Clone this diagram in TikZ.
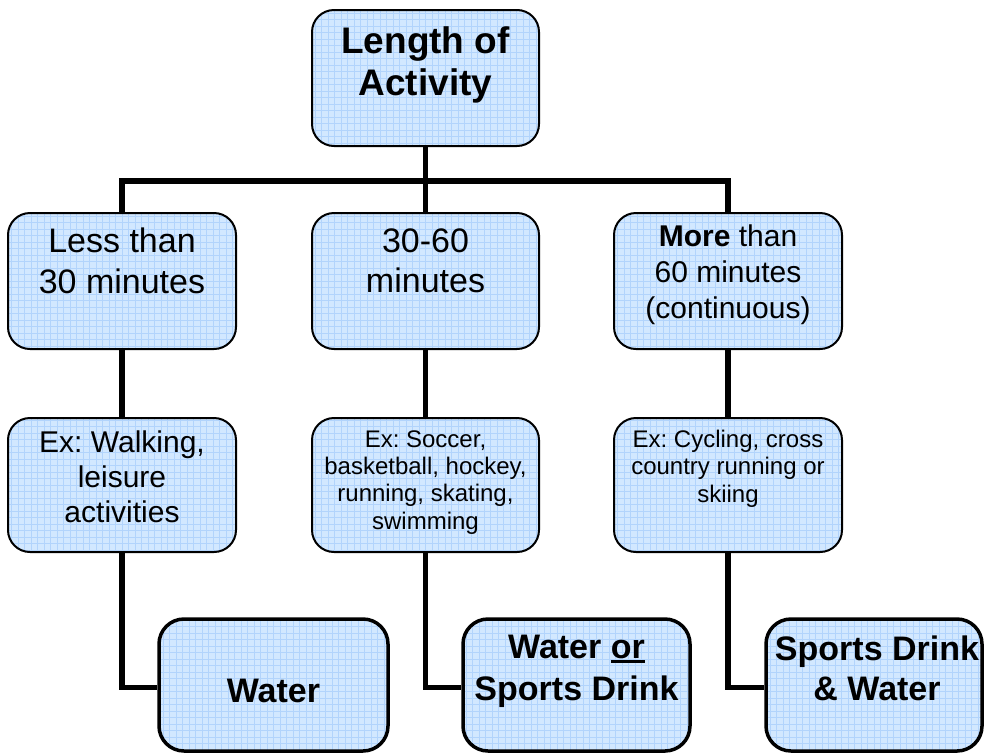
\documentclass[tikz,border=0pt]{standalone}
\usepackage{fontspec}
\setmainfont{Liberation Sans}
\frenchspacing
\definecolor{boxfill}{RGB}{210,232,255}
\definecolor{gridline}{RGB}{178,212,252}
\newsavebox\myulbox
\newcommand\myul[1]{\sbox\myulbox{#1}\rlap{\rule[-5pt]{\wd\myulbox}{3pt}}\usebox\myulbox}
\tikzset{
  box/.style={draw=black, line width=2pt, rounded corners=22pt, fill=boxfill, inner sep=0pt,
    path picture={\draw[gridline, line width=0.6pt, sharp corners]
      ([shift={(-10pt,-10pt)}]path picture bounding box.south west) grid[step=6.5pt]
      ([shift={(10pt,10pt)}]path picture bounding box.north east);}},
  final/.style={box, line width=3.5pt, rounded corners=25pt},
  link/.style={line width=5.5pt, line join=miter},
  txt/.style={align=center, inner sep=0pt, anchor=base},
}
\begin{document}
\begin{tikzpicture}[x=1pt, y=-1pt]
\useasboundingbox (0,0) rectangle (984,753);
% boxes
\node[box, minimum width=227pt, minimum height=136pt] (top) at (425.5,78) {};
\node[box, minimum width=228pt, minimum height=136pt] (l2) at (122,281) {};
\node[box, minimum width=227pt, minimum height=136pt] (m2) at (425.5,281) {};
\node[box, minimum width=228pt, minimum height=136pt] (r2) at (728,281) {};
\node[box, minimum width=228pt, minimum height=134pt] (l3) at (122,485) {};
\node[box, minimum width=227pt, minimum height=134pt] (m3) at (425.5,485) {};
\node[box, minimum width=228pt, minimum height=134pt] (r3) at (728,485) {};
\node[final, minimum width=229pt, minimum height=132pt] (l4) at (273.5,685) {};
\node[final, minimum width=227pt, minimum height=132pt] (m4) at (576.5,685) {};
\node[final, minimum width=216pt, minimum height=132pt] (r4) at (874,685) {};
% texts (anchor base = baseline of the last line)
\node[txt, font=\fontsize{37}{42}\selectfont\bfseries] (t0) at (425.5,95) {Length of\\Activity};
\node[txt, font=\fontsize{34}{41}\selectfont] (tl2) at (122,293) {Less than\\30 minutes};
\node[txt, font=\fontsize{34}{40}\selectfont] (tm2) at (425.5,292) {30-60\\minutes};
\node[txt, font=\fontsize{30}{36}\selectfont] (tr2) at (728,318) {\textbf{More} than\\60 minutes\\(continuous)};
\node[txt, font=\fontsize{30}{35}\selectfont] (tl3) at (122,522) {Ex: Walking,\\leisure\\activities};
\node[txt, font=\fontsize{24}{27.3}\selectfont] (tm3) at (425.5,529) {Ex: Soccer,\\basketball, hockey,\\running, skating,\\swimming};
\node[txt, font=\fontsize{24}{27.5}\selectfont] (tr3) at (728,502) {Ex: Cycling, cross\\country running or\\skiing};
\node[txt, font=\fontsize{34}{42}\selectfont\bfseries] (tl4) at (273.5,702) {Water};
\node[txt, font=\fontsize{34}{42}\selectfont\bfseries] (tm4) at (576.5,700) {Water \myul{or}\\Sports Drink};
\node[txt, font=\fontsize{34}{40}\selectfont\bfseries] (tr4) at (877,700) {Sports Drink\\\& Water};
% connectors
\coordinate (bus) at (425.5,181);
\draw[link] (top.south) -- (bus) -- (m2.north);
\draw[link] (l2.north) |- (bus) -| (r2.north);
\draw[link] (l2.south) -- (l3.north);
\draw[link] (m2.south) -- (m3.north);
\draw[link] (r2.south) -- (r3.north);
\draw[link] (l3.south) |- ([yshift=-2.5pt]l4.west);
\draw[link] (m3.south) |- ([yshift=-2.5pt]m4.west);
\draw[link] (r3.south) |- ([yshift=-2.5pt]r4.west);
\end{tikzpicture}
\end{document}
